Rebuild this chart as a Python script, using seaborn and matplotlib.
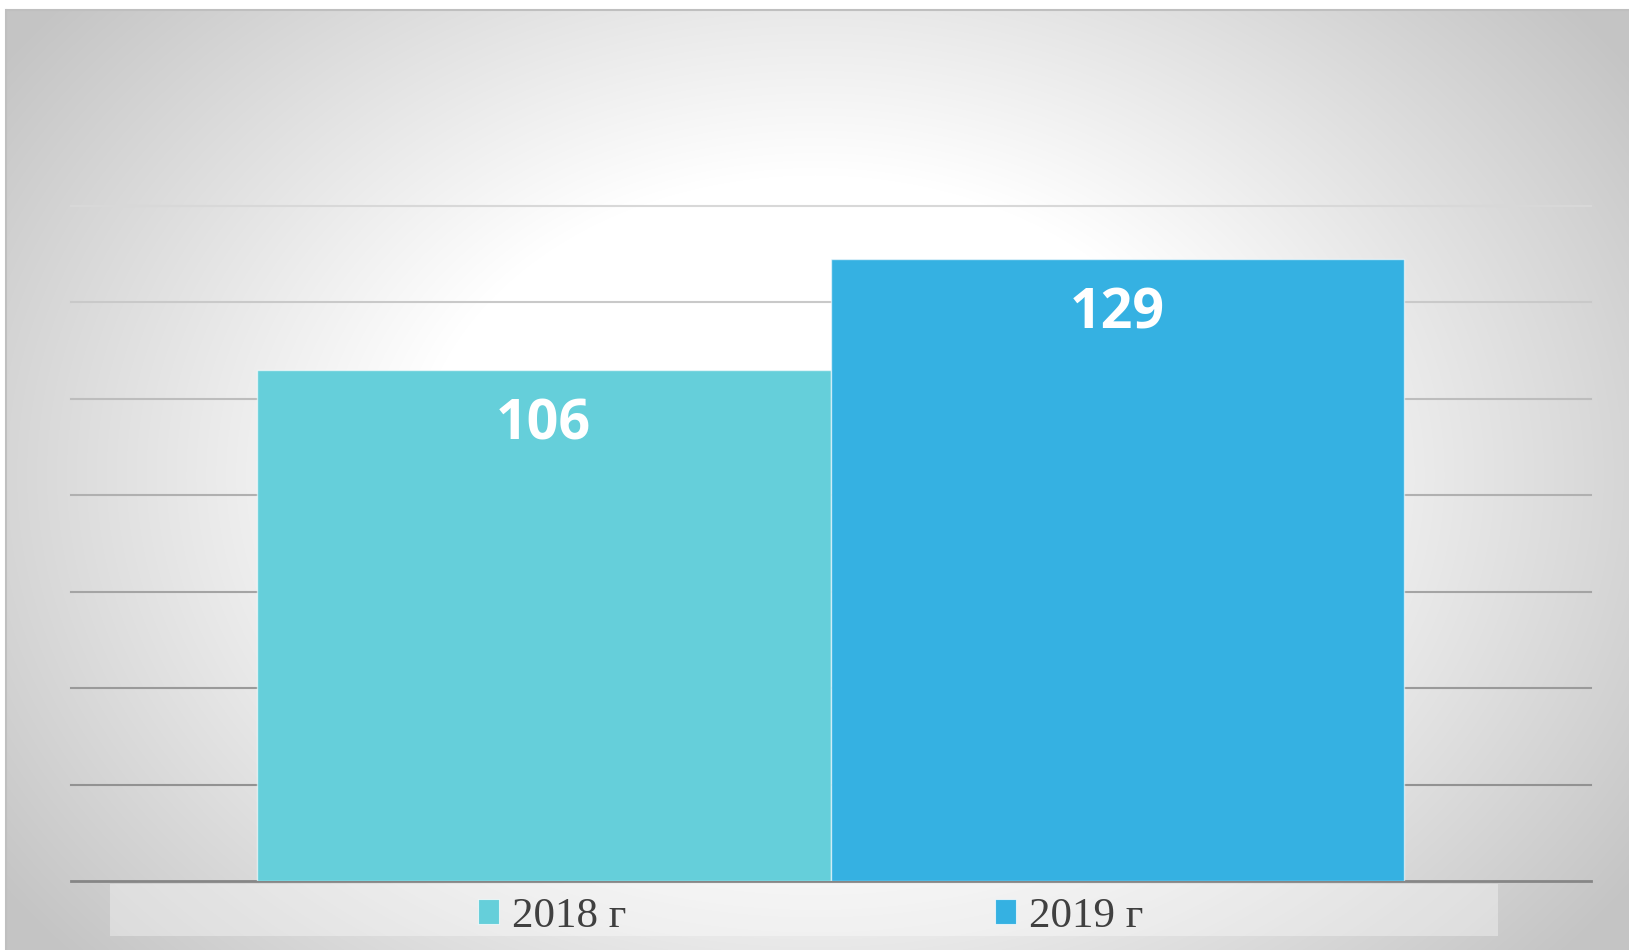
import numpy as np
import pandas as pd
import seaborn as sns
import matplotlib.pyplot as plt
from matplotlib.patches import Patch, Rectangle

# данные
years = ["2018 г", "2019 г"]
counts = [106, 129]
group = ["", ""]
bar_colors = ["#65CFDA", "#35B1E2"]
grid_ticks = [0, 20, 40, 60, 80, 100, 120, 140]
grid_colors = ["#868686", "#929292", "#9a9a9a", "#a4a4a4", "#b0b0b0", "#bdbdbd", "#c9c9c9", "#d8d8d8"]

df = pd.DataFrame({"group": group, "year": years, "count": counts})

W, H = 1629, 950
fig = plt.figure(figsize=(W / 100, H / 100), dpi=100)

# фон: радиальный градиент
bg = fig.add_axes([0, 0, 1, 1], zorder=-10)
yy, xx = np.mgrid[0:H, 0:W]
r = np.sqrt(((xx - 815) / 800.0) ** 2 + ((yy - 475) / 600.0) ** 2)
v = 1 - 0.23 * np.clip((r - 0.5) / 0.73, 0, 1)
v[(xx < 7) | (yy < 10)] = 1.0
img = np.dstack([v, v, v])
bg.imshow(img, extent=[0, W, H, 0], aspect="auto", interpolation="bilinear")
bg.plot([7, W], [9.5, 9.5], color="#bfbfbf", lw=1.5)
bg.plot([6.5, 6.5], [10, H], color="#bfbfbf", lw=1.5)
bg.set_xlim(0, W)
bg.set_ylim(H, 0)
bg.axis("off")

# полоса легенды
fig.add_artist(Rectangle((110 / W, 14 / H), 1388 / W, 52 / H, transform=fig.transFigure,
                         facecolor="white", alpha=0.35, edgecolor="none", zorder=-5))

ax = fig.add_axes([70.6 / W, 69 / H, 1520 / W, 680.1 / H])
ax.set_facecolor("none")
sns.barplot(data=df, x="group", y="count", hue="year", palette=bar_colors, width=0.755,
            saturation=1, edgecolor=(1, 1, 1, 0.6), linewidth=1.0, legend=False, ax=ax, zorder=2)

ax.set_ylim(0, 141)
ax.set_yticks(grid_ticks)
ax.yaxis.grid(True)
ax.set_axisbelow(True)
for line, c in zip(ax.get_ygridlines(), grid_colors):
    line.set_color(c)
    line.set_linewidth(1.5)
    line.set_clip_on(False)
ax.get_ygridlines()[0].set_linewidth(2.0)
ax.tick_params(left=False, labelleft=False, bottom=False, labelbottom=False)
ax.set_xlabel("")
ax.set_ylabel("")
for s in ax.spines.values():
    s.set_visible(False)

# подписи значений
for p in ax.patches:
    h = p.get_height()
    ax.annotate(f"{h:.0f}", (p.get_x() + p.get_width() / 2, h), xytext=(0, -40),
                textcoords="offset points", ha="center", va="center",
                color="white", fontsize=40, fontweight="bold", family="Open Sans", zorder=5)

handles = [Patch(facecolor=c, edgecolor=(1, 1, 1, 0.7), linewidth=0.8) for c in bar_colors]
leg = ax.legend(handles, years, loc="center", bbox_to_anchor=(0.487, -0.052), ncol=2,
                frameon=False, prop={"family": "Liberation Serif", "size": 31},
                handlelength=0.5, handleheight=0.5, handletextpad=0.3, columnspacing=8.55,
                labelcolor="#404040")

fig.savefig("out.png", dpi=100)
